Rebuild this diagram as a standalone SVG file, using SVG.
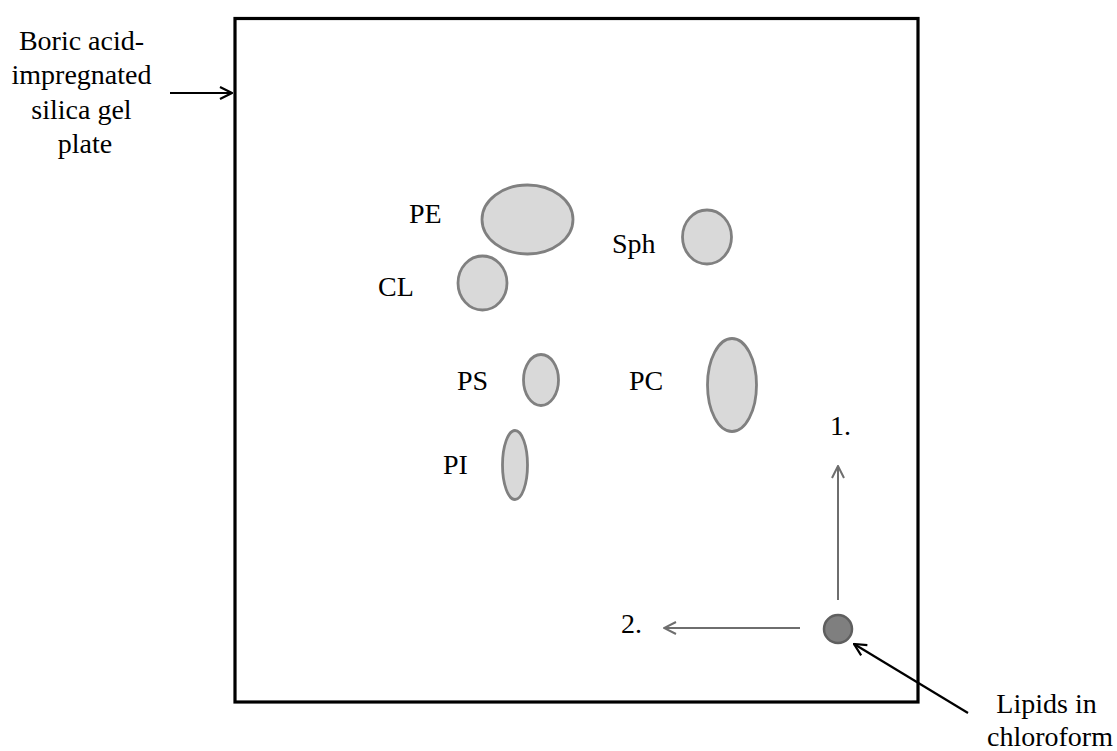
<svg xmlns="http://www.w3.org/2000/svg" width="1117" height="751" viewBox="0 0 1117 751">
  <style>
    .lbl { font-family: "Liberation Serif", "Times New Roman", serif; font-size: 28px; fill: #000; }
    .spot { fill: #d9d9d9; stroke: #808080; stroke-width: 2.8; }
    .run { stroke: #6e6e6e; stroke-width: 2; fill: none; }
    .ptr { stroke: #000; stroke-width: 2.2; fill: none; }
  </style>
  <defs>
    <marker id="openGrey" viewBox="0 0 14 14" refX="13" refY="7" markerWidth="14" markerHeight="14" markerUnits="userSpaceOnUse" orient="auto">
      <path d="M1,1 L13,7 L1,13" fill="none" stroke="#6e6e6e" stroke-width="2"/>
    </marker>
    <marker id="openBlack" viewBox="0 0 14 14" refX="13" refY="7" markerWidth="14" markerHeight="14" markerUnits="userSpaceOnUse" orient="auto">
      <path d="M1,1 L13,7 L1,13" fill="none" stroke="#000" stroke-width="2.2"/>
    </marker>
  </defs>

  <rect width="1117" height="751" fill="#fff"/>

  <!-- TLC plate -->
  <g id="plate">
    <rect x="235" y="18.5" width="683" height="683.5" fill="none" stroke="#000" stroke-width="3.2"/>
  </g>

  <!-- plate caption -->
  <g id="plate-label">
    <text class="lbl" text-anchor="middle">
      <tspan x="85" y="50">Boric acid-</tspan>
      <tspan x="85" y="84">impregnated</tspan>
      <tspan x="85" y="119">silica gel</tspan>
      <tspan x="85" y="153">plate</tspan>
    </text>
  </g>

  <!-- lipid spots -->
  <g id="spot-PE">
    <ellipse class="spot" cx="527.5" cy="219.5" rx="45.5" ry="34.5"/>
    <text class="lbl" x="409" y="223">PE</text>
  </g>
  <g id="spot-Sph">
    <ellipse class="spot" cx="707" cy="237" rx="24.5" ry="27"/>
    <text class="lbl" x="612" y="253">Sph</text>
  </g>
  <g id="spot-CL">
    <ellipse class="spot" cx="482.5" cy="283" rx="24.5" ry="27"/>
    <text class="lbl" x="378" y="296">CL</text>
  </g>
  <g id="spot-PS">
    <ellipse class="spot" cx="541" cy="380" rx="17.5" ry="25.5"/>
    <text class="lbl" x="457" y="390">PS</text>
  </g>
  <g id="spot-PC">
    <ellipse class="spot" cx="732" cy="385" rx="24.5" ry="46.5"/>
    <text class="lbl" x="629" y="390">PC</text>
  </g>
  <g id="spot-PI">
    <ellipse class="spot" cx="515" cy="465" rx="12.5" ry="34.5"/>
    <text class="lbl" x="443" y="474">PI</text>
  </g>

  <!-- sample origin -->
  <g id="origin">
    <circle cx="838" cy="629" r="14" fill="#7f7f7f" stroke="#5f5f5f" stroke-width="2.5"/>
  </g>
  <g id="sample-label">
    <text class="lbl" text-anchor="middle">
      <tspan x="1050" y="713">Lipids in</tspan>
      <tspan x="1050" y="746">chloroform</tspan>
    </text>
  </g>

  <!-- direction labels -->
  <g id="dir-1">
    <text class="lbl" x="830" y="435">1.</text>
  </g>
  <g id="dir-2">
    <text class="lbl" x="621" y="633">2.</text>
  </g>

  <!-- connectors -->
  <g id="connectors">
    <line class="run" x1="838" y1="600" x2="838" y2="466" marker-end="url(#openGrey)"/>
    <line class="run" x1="800" y1="628" x2="664" y2="628" marker-end="url(#openGrey)"/>
    <line class="ptr" x1="170" y1="93" x2="232" y2="93" marker-end="url(#openBlack)"/>
    <line class="ptr" x1="968" y1="713" x2="854" y2="644" marker-end="url(#openBlack)"/>
  </g>
</svg>
